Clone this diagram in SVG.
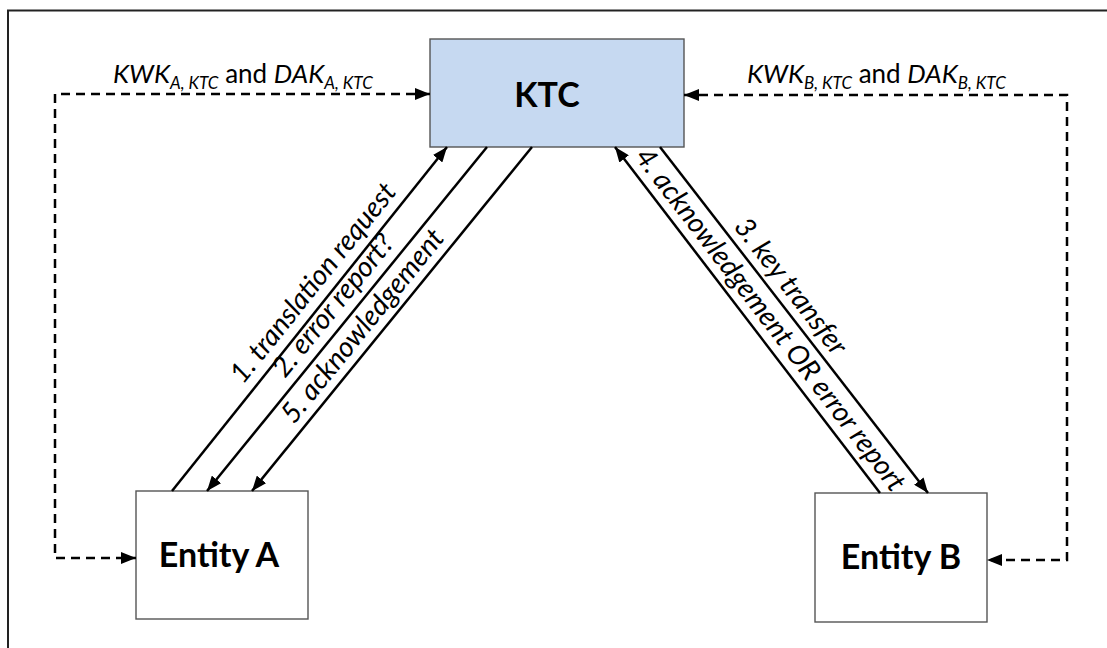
<svg xmlns="http://www.w3.org/2000/svg" width="1107" height="648" viewBox="0 0 1107 648">
<style>
  .frame{fill:none;stroke:#222;stroke-width:2}
  .box{fill:#fff;stroke:#555;stroke-width:1.4}
  .ktc{fill:#C6D9F1;stroke:#555;stroke-width:1.4}
  .title{font-family:Lato,"Liberation Sans",sans-serif;font-weight:bold;font-size:34px;fill:#000;text-anchor:middle}
  .lbl{font-family:Lato,"Liberation Sans",sans-serif;font-size:26px;fill:#000}
  .diag{font-family:Lato,"Liberation Sans",sans-serif;font-size:28px;font-style:italic;fill:#000}
  .it{font-style:italic}
  .sub{font-style:italic;font-size:17px}
  .solid{fill:none;stroke:#000;stroke-width:2.5}
  .dash{fill:none;stroke:#000;stroke-width:2.5;stroke-dasharray:9 6}
</style>
<defs>
  <marker id="ah" viewBox="0 0 15 12" refX="15" refY="6" markerWidth="15" markerHeight="12" markerUnits="userSpaceOnUse" orient="auto-start-reverse">
    <path d="M0,0 L15,6 L0,12 z" fill="#000"/>
  </marker>
</defs>
<rect x="0" y="0" width="1107" height="648" fill="#fff"/>
<rect class="frame" x="8" y="10.5" width="1130" height="700"/>

<g id="ktc">
  <rect class="ktc" x="430" y="39" width="254" height="108"/>
  <text class="title" x="547" y="107">KTC</text>
</g>
<g id="entityA">
  <rect class="box" x="136" y="491" width="172" height="128"/>
  <text class="title" x="219" y="567">Entity A</text>
</g>
<g id="entityB">
  <rect class="box" x="815" y="493" width="172" height="129"/>
  <text class="title" x="901" y="569">Entity B</text>
</g>

<g id="connectors">
  <path class="dash" d="M430,94 H55 V558 H136" marker-start="url(#ah)" marker-end="url(#ah)"/>
  <path class="dash" d="M684,95 H1067 V560 H987" marker-start="url(#ah)" marker-end="url(#ah)"/>
  <line class="solid" x1="172" y1="491" x2="447" y2="147" marker-end="url(#ah)"/>
  <line class="solid" x1="487" y1="147" x2="207" y2="491" marker-end="url(#ah)"/>
  <line class="solid" x1="532" y1="147" x2="252" y2="491" marker-end="url(#ah)"/>
  <line class="solid" x1="660" y1="147" x2="928" y2="493" marker-end="url(#ah)"/>
  <line class="solid" x1="880" y1="493" x2="615" y2="147" marker-end="url(#ah)"/>
</g>

<g id="labels">
  <text class="lbl" x="113" y="83"><tspan class="it">KWK</tspan><tspan class="sub" dy="6">A, KTC</tspan><tspan dy="-6"> and </tspan><tspan class="it">DAK</tspan><tspan class="sub" dy="6">A, KTC</tspan></text>
  <text class="lbl" x="747" y="83"><tspan class="it">KWK</tspan><tspan class="sub" dy="6">B, KTC</tspan><tspan dy="-6"> and </tspan><tspan class="it">DAK</tspan><tspan class="sub" dy="6">B, KTC</tspan></text>
  <text class="diag" transform="translate(243,385) rotate(-51.3)">1. translation request</text>
  <text class="diag" transform="translate(285,379) rotate(-50.85)">2. error report?</text>
  <text class="diag" transform="translate(294,425) rotate(-50.9)">5. acknowledgement</text>
  <text class="diag" transform="translate(733,227) rotate(52.2)">3. key transfer</text>
  <text class="diag" transform="translate(634,157) rotate(52.5)" font-size="27.3">4. acknowledgement OR error report</text>
</g>
</svg>
